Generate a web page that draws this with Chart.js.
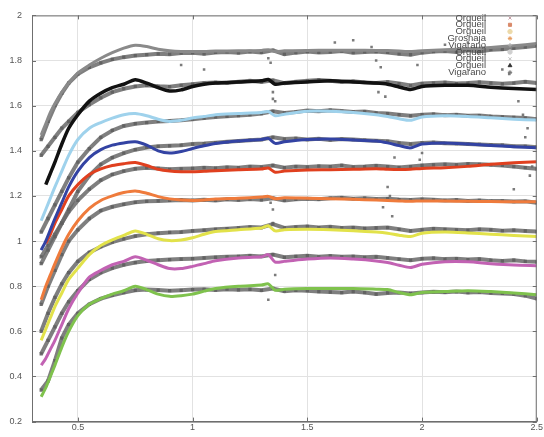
<!DOCTYPE html>
<html>
<head>
<meta charset="utf-8">
<script src="https://cdn.jsdelivr.net/npm/chart.js@4.4.1/dist/chart.umd.min.js"></script>
<style>
    html, body { margin: 0; padding: 0; background: #fff; }
    canvas { display: block; }
</style>
</head>
<body>
<canvas id="grafico" width="544" height="437"></canvas>
<script>
// longitudes de onda (micrones) de las curvas de meteoritos
const ondas = [0.34, 0.36, 0.38, 0.40, 0.43, 0.46, 0.50, 0.55, 0.60, 0.65, 0.70, 0.75, 0.80, 0.85, 0.90, 0.95, 1.00, 1.05, 1.10, 1.20, 1.30, 1.33, 1.36, 1.40, 1.50, 1.60, 1.70, 1.80, 1.85, 1.90, 1.95, 2.00, 2.10, 2.20, 2.30, 2.40, 2.50];

const meteoritoGris = [1.47, 1.52, 1.57, 1.61, 1.66, 1.70, 1.745, 1.78, 1.81, 1.835, 1.855, 1.868, 1.862, 1.85, 1.843, 1.84, 1.84, 1.84, 1.842, 1.843, 1.845, 1.848, 1.84, 1.843, 1.845, 1.846, 1.846, 1.845, 1.844, 1.842, 1.84, 1.843, 1.848, 1.852, 1.858, 1.866, 1.875];
const meteoritoNegro = [null, 1.25, 1.30, 1.35, 1.43, 1.50, 1.56, 1.62, 1.655, 1.68, 1.695, 1.715, 1.70, 1.68, 1.665, 1.67, 1.685, 1.695, 1.70, 1.705, 1.71, 1.716, 1.695, 1.70, 1.705, 1.71, 1.705, 1.70, 1.695, 1.683, 1.672, 1.685, 1.69, 1.69, 1.682, 1.676, 1.672];
const meteoritoCeleste = [1.09, 1.14, 1.19, 1.24, 1.31, 1.38, 1.45, 1.50, 1.525, 1.545, 1.56, 1.565, 1.555, 1.54, 1.53, 1.535, 1.545, 1.552, 1.56, 1.565, 1.57, 1.574, 1.555, 1.562, 1.575, 1.575, 1.57, 1.56, 1.552, 1.542, 1.535, 1.55, 1.555, 1.552, 1.546, 1.54, 1.536];
const meteoritoAzul = [0.96, 1.00, 1.05, 1.10, 1.17, 1.24, 1.31, 1.37, 1.405, 1.425, 1.435, 1.44, 1.425, 1.40, 1.39, 1.397, 1.41, 1.422, 1.432, 1.443, 1.45, 1.455, 1.433, 1.44, 1.45, 1.452, 1.448, 1.443, 1.435, 1.423, 1.413, 1.43, 1.435, 1.43, 1.424, 1.418, 1.413];
const meteoritoRojo = [null, 0.99, 1.03, 1.08, 1.14, 1.20, 1.25, 1.295, 1.32, 1.335, 1.343, 1.348, 1.335, 1.318, 1.31, 1.307, 1.307, 1.309, 1.312, 1.316, 1.319, 1.324, 1.305, 1.31, 1.315, 1.316, 1.318, 1.32, 1.318, 1.317, 1.318, 1.322, 1.325, 1.331, 1.34, 1.347, 1.352];
const meteoritoNaranja = [0.74, 0.80, 0.85, 0.90, 0.97, 1.03, 1.09, 1.145, 1.18, 1.20, 1.215, 1.222, 1.212, 1.197, 1.187, 1.182, 1.18, 1.182, 1.186, 1.19, 1.195, 1.198, 1.188, 1.192, 1.19, 1.188, 1.185, 1.182, 1.18, 1.178, 1.176, 1.178, 1.177, 1.176, 1.175, 1.174, 1.174];
const meteoritoAmarillo = [0.56, 0.61, 0.66, 0.71, 0.77, 0.83, 0.88, 0.94, 0.98, 1.005, 1.025, 1.045, 1.03, 1.01, 1.002, 1.005, 1.015, 1.03, 1.042, 1.05, 1.058, 1.068, 1.045, 1.05, 1.052, 1.05, 1.046, 1.04, 1.035, 1.026, 1.02, 1.035, 1.04, 1.036, 1.03, 1.025, 1.02];
const meteoritoMagenta = [0.45, 0.48, 0.52, 0.56, 0.63, 0.70, 0.77, 0.84, 0.87, 0.895, 0.91, 0.93, 0.915, 0.895, 0.878, 0.878, 0.888, 0.90, 0.913, 0.925, 0.93, 0.94, 0.907, 0.91, 0.92, 0.925, 0.92, 0.912, 0.905, 0.893, 0.883, 0.897, 0.908, 0.908, 0.90, 0.894, 0.891];
const meteoritoVerde = [0.31, 0.35, 0.40, 0.45, 0.53, 0.60, 0.67, 0.72, 0.745, 0.765, 0.78, 0.80, 0.785, 0.765, 0.755, 0.758, 0.765, 0.778, 0.79, 0.80, 0.805, 0.81, 0.782, 0.787, 0.79, 0.79, 0.79, 0.787, 0.785, 0.772, 0.762, 0.772, 0.776, 0.78, 0.776, 0.77, 0.762];

// longitudes de onda de los espectros observados (puntos grises)
const ondasObs = [0.34, 0.37, 0.40, 0.43, 0.46, 0.50, 0.55, 0.60, 0.65, 0.70, 0.75, 0.80, 0.85, 0.90, 0.95, 1.00, 1.05, 1.10, 1.15, 1.20, 1.25, 1.30, 1.35, 1.40, 1.45, 1.50, 1.55, 1.60, 1.65, 1.70, 1.75, 1.80, 1.85, 1.90, 1.95, 2.00, 2.05, 2.10, 2.15, 2.20, 2.25, 2.30, 2.35, 2.40, 2.45, 2.50];

const obs1 = [1.45, 1.53, 1.60, 1.655, 1.70, 1.74, 1.77, 1.79, 1.805, 1.815, 1.822, 1.826, 1.83, 1.828, 1.833, 1.835, 1.83, 1.836, 1.838, 1.834, 1.84, 1.836, 1.845, 1.828, 1.835, 1.84, 1.836, 1.838, 1.842, 1.835, 1.838, 1.84, 1.836, 1.83, 1.826, 1.835, 1.84, 1.842, 1.838, 1.845, 1.84, 1.848, 1.85, 1.855, 1.86, 1.866];
const obs2 = [1.38, 1.42, 1.46, 1.50, 1.53, 1.57, 1.605, 1.635, 1.66, 1.675, 1.685, 1.69, 1.686, 1.684, 1.69, 1.695, 1.70, 1.703, 1.70, 1.706, 1.71, 1.705, 1.712, 1.70, 1.706, 1.71, 1.714, 1.71, 1.705, 1.708, 1.703, 1.70, 1.705, 1.698, 1.69, 1.698, 1.70, 1.703, 1.698, 1.70, 1.704, 1.70, 1.697, 1.70, 1.706, 1.70];
const obs3 = [1.04, 1.10, 1.16, 1.22, 1.28, 1.35, 1.41, 1.46, 1.49, 1.51, 1.52, 1.525, 1.53, 1.532, 1.535, 1.54, 1.545, 1.55, 1.553, 1.556, 1.56, 1.565, 1.575, 1.568, 1.572, 1.578, 1.575, 1.58, 1.576, 1.572, 1.574, 1.568, 1.565, 1.56, 1.555, 1.56, 1.562, 1.558, 1.56, 1.555, 1.556, 1.552, 1.55, 1.548, 1.545, 1.54];
const obs4 = [0.90, 0.96, 1.02, 1.08, 1.14, 1.22, 1.29, 1.34, 1.37, 1.39, 1.405, 1.415, 1.42, 1.422, 1.425, 1.43, 1.432, 1.436, 1.44, 1.443, 1.447, 1.45, 1.46, 1.452, 1.455, 1.45, 1.453, 1.448, 1.452, 1.45, 1.447, 1.445, 1.442, 1.435, 1.43, 1.435, 1.437, 1.433, 1.432, 1.43, 1.428, 1.426, 1.425, 1.42, 1.42, 1.416];
const obs5 = [0.93, 0.98, 1.03, 1.08, 1.13, 1.18, 1.23, 1.27, 1.295, 1.31, 1.32, 1.325, 1.322, 1.318, 1.32, 1.322, 1.325, 1.323, 1.327, 1.325, 1.33, 1.328, 1.335, 1.325, 1.33, 1.328, 1.332, 1.33, 1.335, 1.328, 1.33, 1.334, 1.33, 1.326, 1.33, 1.335, 1.338, 1.34, 1.338, 1.342, 1.34, 1.338, 1.335, 1.33, 1.325, 1.32];
const obs6 = [0.72, 0.80, 0.87, 0.94, 1.00, 1.05, 1.10, 1.135, 1.152, 1.163, 1.172, 1.176, 1.178, 1.18, 1.182, 1.18, 1.183, 1.18, 1.185, 1.182, 1.186, 1.183, 1.19, 1.18, 1.185, 1.188, 1.185, 1.19, 1.192, 1.188, 1.19, 1.186, 1.188, 1.184, 1.182, 1.185, 1.183, 1.18, 1.182, 1.178, 1.18, 1.177, 1.178, 1.175, 1.176, 1.17];
const obs7 = [0.60, 0.68, 0.75, 0.81, 0.86, 0.91, 0.95, 0.975, 0.995, 1.01, 1.022, 1.03, 1.035, 1.038, 1.04, 1.045, 1.048, 1.052, 1.055, 1.058, 1.062, 1.06, 1.075, 1.058, 1.062, 1.065, 1.06, 1.063, 1.058, 1.06, 1.056, 1.058, 1.06, 1.052, 1.045, 1.05, 1.055, 1.052, 1.05, 1.048, 1.052, 1.05, 1.046, 1.048, 1.045, 1.042];
const obs8 = [0.50, 0.56, 0.62, 0.68, 0.73, 0.78, 0.83, 0.86, 0.88, 0.895, 0.905, 0.912, 0.915, 0.918, 0.92, 0.922, 0.925, 0.928, 0.93, 0.932, 0.935, 0.932, 0.94, 0.928, 0.932, 0.935, 0.93, 0.934, 0.93, 0.932, 0.928, 0.93, 0.925, 0.92, 0.915, 0.922, 0.924, 0.92, 0.922, 0.918, 0.92, 0.915, 0.912, 0.915, 0.91, 0.908];
const obs9 = [0.34, 0.38, 0.47, 0.57, 0.63, 0.68, 0.72, 0.745, 0.76, 0.772, 0.782, 0.785, 0.783, 0.78, 0.782, 0.785, 0.786, 0.783, 0.787, 0.784, 0.786, 0.782, 0.79, 0.778, 0.782, 0.78, 0.776, 0.774, 0.772, 0.776, 0.772, 0.765, 0.77, 0.772, 0.768, 0.772, 0.775, 0.773, 0.776, 0.772, 0.774, 0.77, 0.768, 0.765, 0.758, 0.745];

// puntos sueltos (bandas teluricas y bordes)
const sueltosX = [1.33, 1.34, 1.35, 1.35, 1.36, 1.34, 1.35, 1.36, 1.33, 1.35, 1.78, 1.80, 1.82, 1.84, 1.85, 1.86, 1.83, 1.87, 1.81, 1.88, 1.98, 2.00, 1.99, 2.35, 2.38, 2.42, 2.44, 2.46, 2.45, 2.48, 2.47, 2.40, 1.62, 1.70, 2.10, 2.20, 0.95, 1.05];
const sueltosY = [1.81, 1.79, 1.66, 1.63, 1.62, 1.17, 1.14, 0.85, 0.74, 1.08, 1.86, 1.80, 1.77, 1.64, 1.24, 1.20, 1.15, 1.11, 1.66, 1.37, 1.78, 1.39, 1.36, 1.76, 1.74, 1.62, 1.56, 1.50, 1.46, 1.33, 1.29, 1.23, 1.88, 1.89, 1.87, 1.88, 1.78, 1.76];

const nombres = ['Orgueil', 'Orgueil', 'Orgueil', 'Grosnaja', 'Vigarano', 'Orgueil', 'Orgueil', 'Orgueil', 'Vigarano'];
const ticksX = [0.5, 1, 1.5, 2, 2.5];
const ticksY = [0.2, 0.4, 0.6, 0.8, 1, 1.2, 1.4, 1.6, 1.8, 2];

function aPuntos(xs, ys) {
    return xs.map((x, i) => ({ x: x, y: ys[i] }));
}

function curva(valores, color, ancho) {
    return {
        data: aPuntos(ondas, valores),
        showLine: true,
        borderColor: color,
        borderWidth: ancho,
        pointRadius: 0,
        tension: 0.25,
        order: 0
    };
}

function observado(valores) {
    return {
        data: aPuntos(ondasObs, valores),
        showLine: true,
        borderColor: 'rgba(105,105,105,0.85)',
        borderWidth: 4,
        pointRadius: 2.3,
        pointStyle: 'rect',
        pointBackgroundColor: 'rgba(95,95,95,0.9)',
        pointBorderWidth: 0,
        tension: 0,
        order: 1
    };
}

const marcoYLeyenda = {
    id: 'marcoYLeyenda',
    afterDraw(chart) {
        const ctx = chart.ctx;
        const a = chart.chartArea;
        const ex = chart.scales.x;
        const ey = chart.scales.y;
        ctx.save();
        ctx.strokeStyle = '#6f6f6f';
        ctx.lineWidth = 1;
        ctx.strokeRect(a.left + 0.5, a.top + 0.5, a.right - a.left - 1, a.bottom - a.top);
        ctx.beginPath();
        ticksX.forEach(v => {
            const px = Math.round(ex.getPixelForValue(v)) + 0.5;
            ctx.moveTo(px, a.bottom); ctx.lineTo(px, a.bottom - 4);
            ctx.moveTo(px, a.top); ctx.lineTo(px, a.top + 4);
        });
        ticksY.forEach(v => {
            const py = Math.round(ey.getPixelForValue(v)) + 0.5;
            ctx.moveTo(a.left, py); ctx.lineTo(a.left + 4, py);
            ctx.moveTo(a.right, py); ctx.lineTo(a.right - 4, py);
        });
        ctx.stroke();

        // leyenda
        const colores = ['#c9a3aa', '#d98a6a', '#ecd9a8', '#e59a5c', '#aaaaaa', '#cfcfcf', '#bdbdbd', '#333333', '#777777'];
        const estilos = ['crossRot', 'rect', 'circle', 'star', 'cross', 'circle', 'crossRot', 'triangle', 'star'];
        ctx.font = '9.5px "Liberation Sans", Arial, sans-serif';
        ctx.textAlign = 'right';
        ctx.textBaseline = 'middle';
        nombres.forEach((n, i) => {
            const y = 18 + i * 6.8;
            ctx.fillStyle = '#4a4a4a';
            ctx.fillText(n, 486, y);
            ctx.strokeStyle = colores[i];
            ctx.fillStyle = colores[i];
            ctx.lineWidth = 1;
            if (Chart.helpers && Chart.helpers.drawPoint) {
                Chart.helpers.drawPoint(ctx, { pointStyle: estilos[i], radius: 2.2, rotation: 0, borderWidth: 1 }, 510, y);
            }
        });
        ctx.restore();
    }
};

const ctx = document.getElementById('grafico').getContext('2d');

new Chart(ctx, {
    type: 'scatter',
    data: {
        datasets: [
            curva(meteoritoNegro, '#111111', 3.5),
            curva(meteoritoGris, '#8a8a8a', 3),
            curva(meteoritoCeleste, '#9fd2ec', 3),
            curva(meteoritoAzul, '#3343a3', 3),
            curva(meteoritoRojo, '#e0401f', 3),
            curva(meteoritoNaranja, '#ef7b3c', 3),
            curva(meteoritoAmarillo, '#e2e24a', 3),
            curva(meteoritoMagenta, '#c262b3', 3),
            curva(meteoritoVerde, '#7fc24d', 3),
            observado(obs1),
            observado(obs2),
            observado(obs3),
            observado(obs4),
            observado(obs5),
            observado(obs6),
            observado(obs7),
            observado(obs8),
            observado(obs9),
            {
                data: aPuntos(sueltosX, sueltosY),
                pointRadius: 1.8,
                pointStyle: 'rect',
                pointBackgroundColor: 'rgba(100,100,100,0.85)',
                pointBorderWidth: 0,
                order: 1
            }
        ]
    },
    options: {
        responsive: false,
        animation: false,
        layout: { padding: { top: 13, right: 7, left: 0, bottom: 0 } },
        plugins: {
            legend: { display: false },
            tooltip: { enabled: false }
        },
        scales: {
            x: {
                type: 'linear',
                min: 0.3,
                max: 2.5,
                afterBuildTicks: scale => { scale.ticks = ticksX.map(v => ({ value: v })); },
                afterFit: scale => { scale.height = 10; },
                ticks: {
                    padding: 1,
                    color: '#555',
                    font: { family: '"Liberation Sans", Arial, sans-serif', size: 9 },
                    maxRotation: 0,
                    callback: v => String(v)
                },
                grid: { color: '#e2e2e2', drawTicks: false },
                border: { color: '#6f6f6f' }
            },
            y: {
                min: 0.2,
                max: 2,
                afterBuildTicks: scale => { scale.ticks = ticksY.map(v => ({ value: v })); },
                afterFit: scale => { scale.width = 32; },
                ticks: {
                    padding: 10,
                    color: '#555',
                    font: { family: '"Liberation Sans", Arial, sans-serif', size: 9 },
                    callback: v => String(Math.round(v * 10) / 10)
                },
                grid: { color: '#e2e2e2', drawTicks: false },
                border: { color: '#6f6f6f' }
            }
        }
    },
    plugins: [marcoYLeyenda]
});
</script>
</body>
</html>
